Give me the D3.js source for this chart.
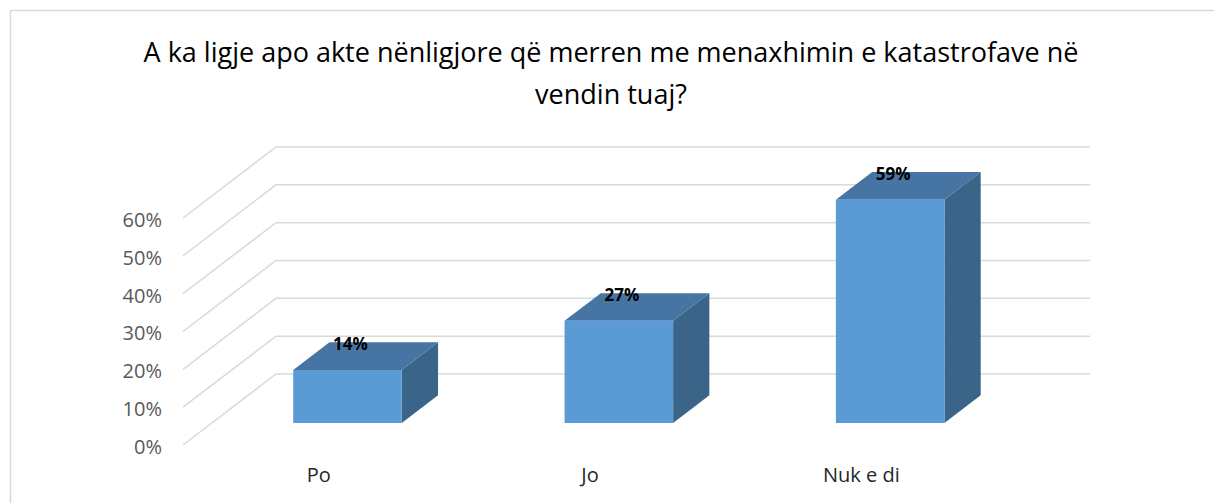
<!DOCTYPE html>
<html>
<head>
<meta charset="utf-8">
<script src="https://cdn.jsdelivr.net/npm/d3@7"></script>
<style>
	body { margin: 0; background: #fff; }
	svg { display: block; }
</style>
</head>
<body>
<svg id="chart" width="1214" height="503"></svg>
<script>
// data
const categories = ["Po", "Jo", "Nuk e di"];
const values = [0.14, 0.27, 0.59];
const valueLabels = ["14%", "27%", "59%"];
const yTicks = [0, 0.1, 0.2, 0.3, 0.4, 0.5, 0.6];
const titleLines = ["A ka ligje apo akte nënligjore që merren me menaxhimin e katastrofave në", "vendin tuaj?"];

const svg = d3.select("#chart");

// chart border
svg.append("rect")
	.attr("x", 10.5).attr("y", 10.5)
	.attr("width", 1220).attr("height", 500)
	.style("fill", "none")
	.style("stroke", "#d9d9d9")
	.style("stroke-width", 1.5);

// title
svg.append("text")
	.attr("x", 611).attr("y", 62)
	.attr("text-anchor", "middle")
	.style("font-family", "'Open Sans', sans-serif")
	.style("font-size", "27px")
	.style("fill", "#000")
	.selectAll("tspan")
	.data(titleLines)
	.enter()
	.append("tspan")
	.attr("x", 611)
	.attr("dy", (d, i) => i === 0 ? 0 : 42)
	.text(d => d);

// 3D frame: front plane + depth vector
const frontLeft = 183, frontRight = 997;
const depthX = 93, depthY = -71;
const proj = (x, y, d) => [x + depthX * d, y + depthY * d];

const x = d3.scaleBand()
	.domain(categories)
	.range([frontLeft, frontRight])
	.paddingInner(0.6)
	.paddingOuter(0.3);

const y = d3.scaleLinear()
	.domain([0, 0.6])
	.range([445, 218]);

// gridlines: side wall diagonal + back wall
const line = d3.line();
svg.append("g").selectAll("path")
	.data(yTicks)
	.enter()
	.append("path")
	.attr("d", t => line([proj(frontLeft, y(t), 0), proj(frontLeft, y(t), 1), proj(frontRight, y(t), 1)]))
	.style("fill", "none")
	.style("stroke", "#d9d9d9")
	.style("stroke-width", 1.5);

// value axis labels
const yAxis = d3.axisLeft(y)
	.tickValues(yTicks)
	.tickFormat(d3.format(".0%"))
	.tickSize(0)
	.tickPadding(21);
const gy = svg.append("g")
	.attr("transform", `translate(${frontLeft},2)`)
	.call(yAxis);
gy.select(".domain").remove();
gy.selectAll("text")
	.style("font-family", "'Open Sans', sans-serif")
	.style("font-size", "20px")
	.style("fill", "#595959");

// category labels (front edge)
const xAxis = d3.axisBottom(x).tickSize(0).tickPadding(23);
const gx = svg.append("g")
	.attr("transform", `translate(0,${y(0)})`)
	.call(xAxis);
gx.select(".domain").remove();
gx.selectAll("text")
	.style("font-family", "'Open Sans', sans-serif")
	.style("font-size", "20px")
	.style("fill", "#262626");

// bars
const d0 = 0.31, d1 = 0.70;
const bars = svg.append("g").selectAll("g")
	.data(categories)
	.enter()
	.append("g");

const poly = pts => "M" + pts.map(p => p.join(",")).join("L") + "Z";

bars.append("path") // side
	.attr("d", (c, i) => {
		const xr = x(c) + x.bandwidth();
		return poly([proj(xr, y(0), d0), proj(xr, y(values[i]), d0), proj(xr, y(values[i]), d1), proj(xr, y(0), d1)]);
	})
	.style("fill", "#3a6588");

bars.append("path") // top
	.attr("d", (c, i) => {
		const xl = x(c), xr = x(c) + x.bandwidth(), yt = y(values[i]);
		return poly([proj(xl, yt, d0), proj(xr, yt, d0), proj(xr, yt, d1), proj(xl, yt, d1)]);
	})
	.style("fill", "#4675a3");

bars.append("path") // front
	.attr("d", (c, i) => {
		const xl = x(c), xr = x(c) + x.bandwidth();
		return poly([proj(xl, y(0), d0), proj(xr, y(0), d0), proj(xr, y(values[i]), d0), proj(xl, y(values[i]), d0)]);
	})
	.style("fill", "#5b9bd5");

// data labels
bars.append("text")
	.attr("x", c => proj(x(c) + x.bandwidth() / 2, 0, d0)[0] + 3)
	.attr("y", (c, i) => proj(0, y(values[i]), d1)[1] + 8)
	.attr("text-anchor", "middle")
	.style("font-family", "'Open Sans', sans-serif")
	.style("font-size", "17px")
	.style("font-weight", "bold")
	.style("fill", "#000")
	.text((c, i) => valueLabels[i]);
</script>
</body>
</html>
